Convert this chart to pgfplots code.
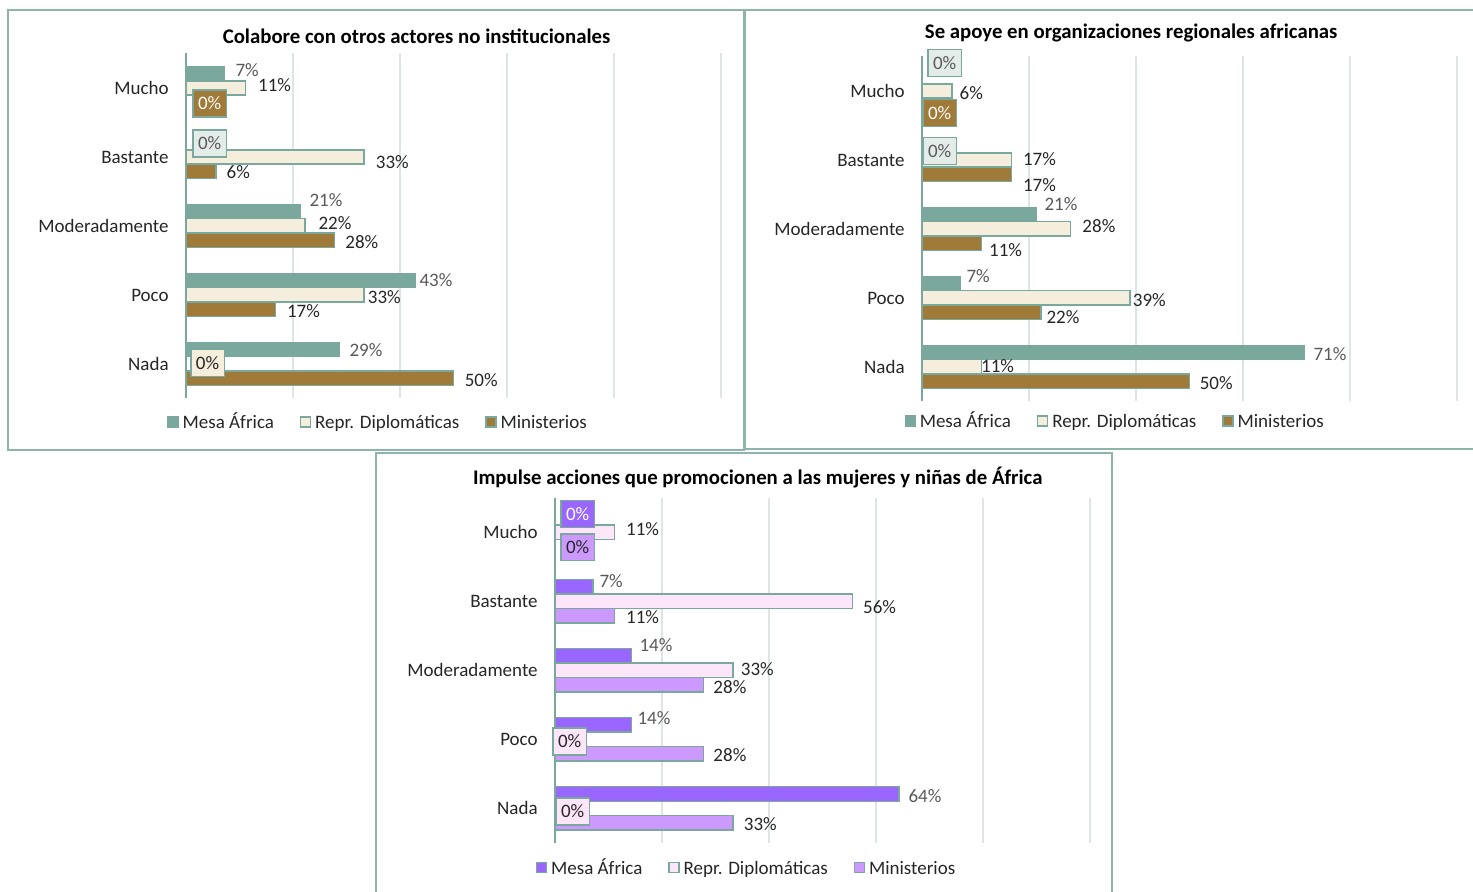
\documentclass[border=0pt]{standalone}
\usepackage{pgfplots}
\usepackage{pgfplotstable}
\pgfplotsset{compat=1.18}
\usepackage{fontspec}
\setmainfont{Carlito}

\definecolor{mesaA}{HTML}{7BA89C}
\definecolor{reprA}{HTML}{F5EEDC}
\definecolor{minA}{HTML}{A07A38}
\definecolor{mesaB}{HTML}{9966FF}
\definecolor{reprB}{HTML}{FDE6FA}
\definecolor{minB}{HTML}{CC99FF}
\definecolor{edge}{HTML}{7BA89C}
\definecolor{zbox}{HTML}{E3ECE9}
\definecolor{framec}{HTML}{8DB5AA}
\definecolor{gridc}{HTML}{DEE5E3}
\definecolor{txt}{HTML}{262626}
\definecolor{gtxt}{HTML}{595959}

\newcommand\lblfont{\fontsize{9.5pt}{11pt}\selectfont}
\newcommand\ttlfont{\fontsize{10.4pt}{12pt}\selectfont\bfseries}

% columns: category (0 = Mucho ... 4 = Nada), value in %, label shift dx / dy in px
\pgfplotstableread{
y x dx dy
0 7.1 11 3
2 21.4 8.5 11
3 42.9 3.5 0
4 28.6 10 -1
}\aMesa
\pgfplotstableread{
y x dx dy
1 0 6 -1
}\aMesaZ
\pgfplotstableread{
y x dx dy
0 11.1 12 3
1 33.3 11 -5
2 22.2 13 3
3 33.3 3 -2
}\aRepr
\pgfplotstableread{
y x dx dy
4 0 4 1
}\aReprZ
\pgfplotstableread{
y x dx dy
1 5.6 10 -1
2 27.8 10 -2
3 16.7 11 -2
4 50 10.5 -2
}\aMin
\pgfplotstableread{
y x dx dy
0 0 6 -1
}\aMinZ

\pgfplotstableread{
y x dx dy
2 21.4 7.5 10.5
3 7.1 6 7.5
4 71.4 9 -1.5
}\bMesa
\pgfplotstableread{
y x dx dy
0 0 5 13.5
1 0 0 -5.5
}\bMesaZ
\pgfplotstableread{
y x dx dy
0 5.6 7 -2
1 16.7 11 1
2 27.8 11 3
3 38.9 2 -2
4 11.1 -1 1
}\bRepr
\pgfplotstableread{
y x dx dy
1 16.7 11 -10.5
2 11.1 7 -6.5
3 22.2 5 -4.5
4 50 9.5 -1.5
}\bMin
\pgfplotstableread{
y x dx dy
0 0 0 -7.5
}\bMinZ

\pgfplotstableread{
y x dx dy
1 7.1 6 5.5
2 14.3 7.5 10.5
3 14.3 5.5 6.5
4 64.3 9 -2.5
}\cMesa
\pgfplotstableread{
y x dx dy
0 0 5 3.5
}\cMesaZ
\pgfplotstableread{
y x dx dy
0 11.1 11 3
1 55.6 10 -6
2 33.3 7 1
}\cRepr
\pgfplotstableread{
y x dx dy
3 0 -3 -2
4 0 0 -3
}\cReprZ
\pgfplotstableread{
y x dx dy
1 11.1 11 -1.5
2 27.8 9 -2.5
3 27.8 9 -1.5
4 33.3 10 -1.5
}\cMin
\pgfplotstableread{
y x dx dy
0 0 5 -0.5
}\cMinZ

\pgfplotsset{
  panel/.style={
    scale only axis, width=267.5pt, height=172.5pt,
    xbar, bar width=0.21,
    xmin=0, xmax=100, ymin=-0.5, ymax=4.5, y dir=reverse,
    ytick={0,1,2,3,4},
    yticklabels={Mucho,Bastante,Moderadamente,Poco,Nada},
    xtick={20,40,60,80,100}, xticklabels={},
    xmajorgrids, grid style={gridc, line width=0.75pt},
    major tick length=0pt, tick style={draw=none},
    axis line style={draw=none},
    extra x ticks={0}, extra x tick labels={},
    extra x tick style={xmajorgrids=true, grid style={edge, line width=0.9pt}},
    yticklabel style={anchor=east, inner sep=0pt, xshift=-8.5pt, text=txt, font=\lblfont},
    clip=false,
    every axis title shift=0pt,
    title style={font=\ttlfont, text=black, anchor=center, inner sep=0pt},
    legend columns=3,
    legend style={draw=none, fill=none, font=\lblfont, text=txt, anchor=center,
      nodes={text height=1.55ex, text depth=0.25ex},
      /tikz/every even column/.append style={column sep=11pt}},
    legend image code/.code={\draw[##1, line width=0.6pt] (0pt,-2.5pt) rectangle (5pt,2.5pt);},
  },
  lab/.style={
    point meta=x,
    nodes near coords={\pgfmathprintnumber[fixed,precision=0,assume math mode=true]{\pgfplotspointmeta}\%},
    visualization depends on=\thisrow{dx}\as\dx,
    visualization depends on=\thisrow{dy}\as\dy,
    every node near coord/.append style={anchor=west, inner sep=0pt,
      xshift=\dx*0.5pt, yshift=\dy*0.5pt, font=\lblfont},
  },
  boxlab/.style 2 args={lab, forget plot,
    every node near coord/.append style={draw=edge, line width=0.8pt,
      fill=#1, text=#2, inner xsep=2.6pt, inner ysep=3.4pt}},
  s1/.style={bar shift=-0.21, draw=edge, line width=0.6pt},
  s2/.style={bar shift=0, draw=edge, line width=0.75pt},
  s3/.style={bar shift=0.21, draw=edge, line width=0.75pt},
}

\begin{document}
\begin{tikzpicture}[font=\lblfont]
\path[use as bounding box] (0pt,0pt) rectangle (736.5pt,446pt);
\draw[framec, line width=1pt] (4pt,441pt) rectangle (372pt,221pt);
\draw[framec, line width=1pt] (372.5pt,441pt) rectangle (737.5pt,221.5pt);
\draw[framec, line width=1pt] (188pt,219.5pt) rectangle (556pt,-1pt);

% Panel 1
\begin{axis}[panel, at={(93pt,246.75pt)}, anchor=south west,
  title={Colabore con otros actores no institucionales},
  title style={at={(0.431,1.051)}},
  legend style={at={(0.361,-0.068)}}]
\addplot[s1, fill=mesaA, lab, every node near coord/.append style={text=gtxt}] table[x=x,y=y] {\aMesa};
\addlegendentry{Mesa África}
\addplot[s2, fill=reprA, lab, every node near coord/.append style={text=txt}] table[x=x,y=y] {\aRepr};
\addlegendentry{Repr. Diplomáticas}
\addplot[s3, fill=minA, lab, every node near coord/.append style={text=txt}] table[x=x,y=y] {\aMin};
\addlegendentry{Ministerios}
\addplot[s1, fill=mesaA, boxlab={zbox}{gtxt}] table[x=x,y=y] {\aMesaZ};
\addplot[s2, fill=reprA, boxlab={reprA}{txt}] table[x=x,y=y] {\aReprZ};
\addplot[s3, fill=minA, boxlab={minA}{white}] table[x=x,y=y] {\aMinZ};
\end{axis}

% Panel 2
\begin{axis}[panel, at={(461pt,245.25pt)}, anchor=south west,
  title={Se apoye en organizaciones regionales africanas},
  title style={at={(0.391,1.068)}},
  legend style={at={(0.363,-0.0565)}}]
\addplot[s1, fill=mesaA, lab, every node near coord/.append style={text=gtxt}] table[x=x,y=y] {\bMesa};
\addlegendentry{Mesa África}
\addplot[s2, fill=reprA, lab, every node near coord/.append style={text=txt}] table[x=x,y=y] {\bRepr};
\addlegendentry{Repr. Diplomáticas}
\addplot[s3, fill=minA, lab, every node near coord/.append style={text=txt}] table[x=x,y=y] {\bMin};
\addlegendentry{Ministerios}
\addplot[s1, fill=mesaA, boxlab={zbox}{gtxt}] table[x=x,y=y] {\bMesaZ};
\addplot[s3, fill=minA, boxlab={minA}{white}] table[x=x,y=y] {\bMinZ};
\end{axis}

% Panel 3
\begin{axis}[panel, at={(277.5pt,24.5pt)}, anchor=south west, height=172.75pt,
  title={Impulse acciones que promocionen a las mujeres y niñas de África},
  title style={at={(0.379,1.059)}},
  legend style={at={(0.36,-0.072)}}]
\addplot[s1, fill=mesaB, lab, every node near coord/.append style={text=gtxt}] table[x=x,y=y] {\cMesa};
\addlegendentry{Mesa África}
\addplot[s2, fill=reprB, lab, every node near coord/.append style={text=txt}] table[x=x,y=y] {\cRepr};
\addlegendentry{Repr. Diplomáticas}
\addplot[s3, fill=minB, lab, every node near coord/.append style={text=txt}] table[x=x,y=y] {\cMin};
\addlegendentry{Ministerios}
\addplot[s1, fill=mesaB, boxlab={mesaB}{white}] table[x=x,y=y] {\cMesaZ};
\addplot[s2, fill=reprB, boxlab={reprB}{txt}] table[x=x,y=y] {\cReprZ};
\addplot[s3, fill=minB, boxlab={minB}{txt}] table[x=x,y=y] {\cMinZ};
\end{axis}
\end{tikzpicture}
\end{document}
